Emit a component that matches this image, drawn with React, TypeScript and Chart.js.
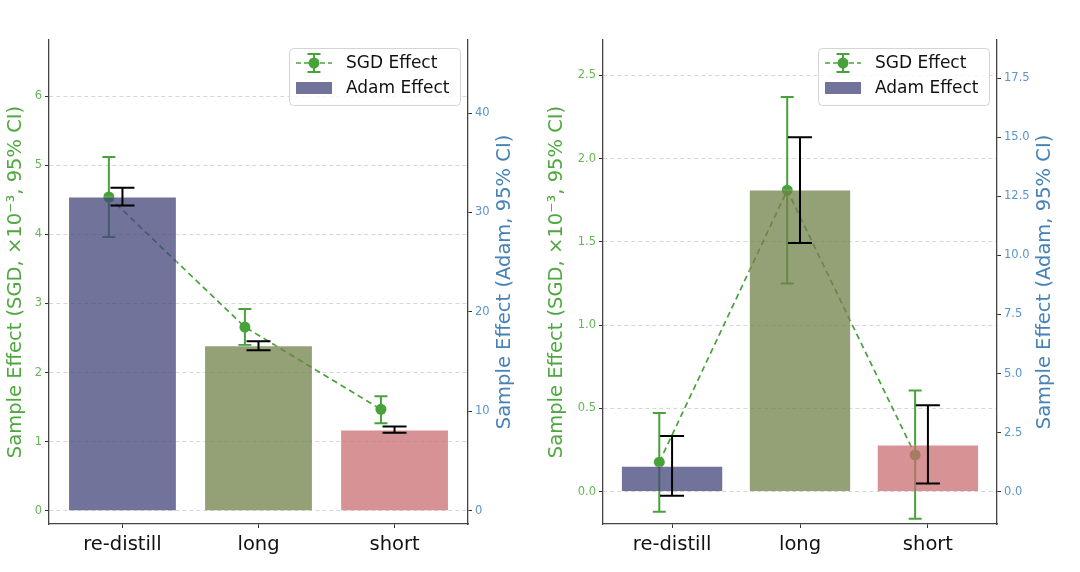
import React, { useEffect, useRef } from 'react';
import { Chart, registerables } from 'chart.js';

Chart.register(...registerables);

const FONT = '"DejaVu Sans", "Liberation Sans", sans-serif';

const categories = ['re-distill', 'long', 'short'];

// Left panel
const sgdMean1 = [4.54, 2.66, 1.47];
const sgdLo1 = [3.96, 2.4, 1.27];
const sgdHi1 = [5.12, 2.92, 1.66];
const adamMean1 = [31.6, 16.65, 8.2];
const adamLo1 = [30.7, 16.15, 7.85];
const adamHi1 = [32.5, 17.05, 8.5];
const leftTicks1 = [0, 1, 2, 3, 4, 5, 6];
const rightTicks1 = [0, 10, 20, 30, 40];

// Right panel
const sgdMean2 = [0.177, 1.81, 0.221];
const sgdLo2 = [-0.121, 1.25, -0.163];
const sgdHi2 = [0.473, 2.37, 0.608];
const adamMean2 = [1.1, 12.78, 2.0];
const adamLo2 = [-0.175, 10.52, 0.35];
const adamHi2 = [2.36, 15.0, 3.66];
const leftTicks2 = [0, 0.5, 1.0, 1.5, 2.0, 2.5];
const rightTicks2 = [0, 2.5, 5.0, 7.5, 10.0, 12.5, 15.0, 17.5];

const barColors = ['rgba(66,68,122,0.75)', 'rgba(112,128,72,0.75)', 'rgba(200,110,114,0.75)'];
const SGD_GREEN = '#48a23a';
const GREEN_TITLE = '#4fa83f';
const GREEN_TICK = '#66b656';
const BLUE_TITLE = '#4682b8';
const BLUE_TICK = '#5a94cc';
const SGD_OFFSET = 0.1;

const leftTitle = 'Sample Effect (SGD, ×10⁻³, 95% CI)';
const rightTitle = 'Sample Effect (Adam, 95% CI)';
const legendLabels = ['SGD Effect', 'Adam Effect'];

type Panel = {
  sgdMean: number[];
  sgdLo: number[];
  sgdHi: number[];
  adamMean: number[];
  adamLo: number[];
  adamHi: number[];
  leftTicks: number[];
  rightTicks: number[];
  leftMin: number;
  leftMax: number;
  rightMin: number;
  rightMax: number;
  decimals: number;
  leftW: number;
  rightW: number;
  leftTitleX: number;
  rightTitleX: number;
};

const panel1: Panel = {
  sgdMean: sgdMean1, sgdLo: sgdLo1, sgdHi: sgdHi1,
  adamMean: adamMean1, adamLo: adamLo1, adamHi: adamHi1,
  leftTicks: leftTicks1, rightTicks: rightTicks1,
  leftMin: -0.188, leftMax: 6.81, rightMin: -1.31, rightMax: 47.34,
  decimals: 0, leftW: 49, rightW: 72, leftTitleX: 16, rightTitleX: 505,
};

const panel2: Panel = {
  sgdMean: sgdMean2, sgdLo: sgdLo2, sgdHi: sgdHi2,
  adamMean: adamMean2, adamLo: adamLo2, adamHi: adamHi2,
  leftTicks: leftTicks2, rightTicks: rightTicks2,
  leftMin: -0.194, leftMax: 2.712, rightMin: -1.366, rightMax: 19.11,
  decimals: 1, leftW: 63, rightW: 83, leftTitleX: 17, rightTitleX: 505,
};

function makeChart(canvas: HTMLCanvasElement, p: Panel) {
  const plugin = {
    id: 'panelDeco',
    beforeDatasetsDraw(chart: any) {
      const ctx = chart.ctx;
      const xs = chart.scales.x;
      const ys = chart.scales.y;
      ctx.save();
      ctx.strokeStyle = SGD_GREEN;
      ctx.lineWidth = 2;
      for (let i = 0; i < categories.length; i++) {
        const px = xs.getPixelForValue(i - SGD_OFFSET);
        const t = ys.getPixelForValue(p.sgdHi[i]);
        const b = ys.getPixelForValue(p.sgdLo[i]);
        ctx.beginPath();
        ctx.moveTo(px, t); ctx.lineTo(px, b);
        ctx.moveTo(px - 6.5, t); ctx.lineTo(px + 6.5, t);
        ctx.moveTo(px - 6.5, b); ctx.lineTo(px + 6.5, b);
        ctx.stroke();
      }
      ctx.restore();
    },
    afterDatasetsDraw(chart: any) {
      const ctx = chart.ctx;
      const xs = chart.scales.x;
      const ys = chart.scales.y1;
      ctx.save();
      ctx.strokeStyle = '#000';
      ctx.lineWidth = 2;
      for (let i = 0; i < categories.length; i++) {
        const px = xs.getPixelForValue(i);
        const t = ys.getPixelForValue(p.adamHi[i]);
        const b = ys.getPixelForValue(p.adamLo[i]);
        ctx.beginPath();
        ctx.moveTo(px, t); ctx.lineTo(px, b);
        ctx.moveTo(px - 12, t); ctx.lineTo(px + 12, t);
        ctx.moveTo(px - 12, b); ctx.lineTo(px + 12, b);
        ctx.stroke();
      }
      ctx.restore();
    },
    afterDraw(chart: any) {
      const ctx = chart.ctx;
      const ca = chart.chartArea;
      const cy = (ca.top + ca.bottom) / 2;
      ctx.save();
      ctx.font = `19.5px ${FONT}`;
      ctx.textAlign = 'center';
      ctx.textBaseline = 'middle';
      ctx.fillStyle = GREEN_TITLE;
      ctx.translate(p.leftTitleX, cy);
      ctx.rotate(-Math.PI / 2);
      ctx.fillText(leftTitle, 0, 0);
      ctx.restore();
      ctx.save();
      ctx.font = `19.5px ${FONT}`;
      ctx.textAlign = 'center';
      ctx.textBaseline = 'middle';
      ctx.fillStyle = BLUE_TITLE;
      ctx.translate(p.rightTitleX, cy);
      ctx.rotate(-Math.PI / 2);
      ctx.fillText(rightTitle, 0, 0);
      ctx.restore();

      // legend
      const w = 171, h = 57;
      const lx = ca.right - 8 - w;
      const ly = ca.top + 8;
      ctx.save();
      ctx.beginPath();
      ctx.roundRect(lx + 0.5, ly + 0.5, w, h, 4);
      ctx.fillStyle = 'rgba(255,255,255,0.8)';
      ctx.fill();
      ctx.strokeStyle = '#d4d4d4';
      ctx.lineWidth = 1;
      ctx.stroke();
      const r1 = ly + 15;
      const r2 = ly + 40;
      const hx = lx + 25;
      ctx.strokeStyle = SGD_GREEN;
      ctx.lineWidth = 1.7;
      ctx.setLineDash([5, 3]);
      ctx.beginPath();
      ctx.moveTo(lx + 7, r1); ctx.lineTo(lx + 43, r1);
      ctx.stroke();
      ctx.setLineDash([]);
      ctx.lineWidth = 2;
      ctx.beginPath();
      ctx.moveTo(hx, r1 - 9); ctx.lineTo(hx, r1 + 9);
      ctx.moveTo(hx - 6.5, r1 - 9); ctx.lineTo(hx + 6.5, r1 - 9);
      ctx.moveTo(hx - 6.5, r1 + 9); ctx.lineTo(hx + 6.5, r1 + 9);
      ctx.stroke();
      ctx.fillStyle = SGD_GREEN;
      ctx.beginPath();
      ctx.arc(hx, r1, 5.5, 0, Math.PI * 2);
      ctx.fill();
      ctx.fillStyle = barColors[0];
      ctx.fillRect(lx + 7, r2 - 6, 36, 12);
      ctx.fillStyle = '#111';
      ctx.font = `17px ${FONT}`;
      ctx.textAlign = 'left';
      ctx.textBaseline = 'middle';
      ctx.fillText(legendLabels[0], lx + 57, r1 + 1);
      ctx.fillText(legendLabels[1], lx + 57, r2 + 1);
      ctx.restore();
    },
  };

  const fmt = (v: number) => v.toFixed(p.decimals);

  return new Chart(canvas, {
    data: {
      datasets: [
        {
          type: 'line',
          label: legendLabels[0],
          data: p.sgdMean.map((v, i) => ({ x: i - SGD_OFFSET, y: v })),
          yAxisID: 'y',
          xAxisID: 'x',
          borderColor: SGD_GREEN,
          backgroundColor: SGD_GREEN,
          borderWidth: 1.7,
          borderDash: [6, 4],
          pointRadius: 5.5,
          pointBorderWidth: 0,
          pointBackgroundColor: SGD_GREEN,
          tension: 0,
          order: 2,
        } as any,
        {
          type: 'bar',
          label: legendLabels[1],
          data: p.adamMean.map((v, i) => ({ x: i, y: v })),
          yAxisID: 'y1',
          xAxisID: 'x',
          backgroundColor: barColors,
          borderColor: 'rgba(255,255,255,0.35)',
          borderWidth: 1,
          barPercentage: 1,
          categoryPercentage: 0.8,
          order: 1,
        } as any,
      ],
    },
    options: {
      animation: false,
      responsive: false,
      maintainAspectRatio: false,
      layout: { padding: { top: 40, left: 0, right: 0, bottom: 0 } },
      plugins: { legend: { display: false }, tooltip: { enabled: false }, title: { display: false } },
      scales: {
        x: {
          type: 'linear',
          position: 'bottom',
          offset: false,
          min: -0.54,
          max: 2.54,
          afterBuildTicks: (s: any) => { s.ticks = categories.map((_, i) => ({ value: i })); },
          afterFit: (s: any) => { s.height = 48; },
          ticks: {
            callback: (v: any) => categories[Math.round(Number(v))] ?? '',
            font: { family: FONT, size: 19.5 },
            color: '#111',
            padding: 5,
            maxRotation: 0,
            autoSkip: false,
          },
          grid: { display: true, offset: false, drawOnChartArea: false, drawTicks: true, tickLength: 4, tickColor: '#333', tickWidth: 1 },
          border: { display: true, color: '#444', width: 1.3 },
        },
        y: {
          type: 'linear',
          position: 'left',
          min: p.leftMin,
          max: p.leftMax,
          afterBuildTicks: (s: any) => { s.ticks = p.leftTicks.map((v) => ({ value: v })); },
          afterFit: (s: any) => { s.width = p.leftW; },
          ticks: {
            callback: (v: any) => fmt(Number(v)),
            font: { family: FONT, size: 11.5 },
            color: GREEN_TICK,
            padding: 3,
            autoSkip: false,
          },
          grid: {
            display: true,
            drawOnChartArea: true,
            color: 'rgba(205,205,205,0.8)',
            lineWidth: 1,
            drawTicks: true,
            tickLength: 4,
            tickColor: '#333',
            tickWidth: 1,
            tickBorderDash: [],
          } as any,
          border: { display: true, color: '#444', width: 1.3, dash: [4, 3] },
        },
        y1: {
          type: 'linear',
          position: 'right',
          min: p.rightMin,
          max: p.rightMax,
          afterBuildTicks: (s: any) => { s.ticks = p.rightTicks.map((v) => ({ value: v })); },
          afterFit: (s: any) => { s.width = p.rightW; },
          ticks: {
            callback: (v: any) => fmt(Number(v)),
            font: { family: FONT, size: 11.5 },
            color: BLUE_TICK,
            padding: 3,
            autoSkip: false,
          },
          grid: { display: true, drawOnChartArea: false, drawTicks: true, tickLength: 4, tickColor: '#333', tickWidth: 1 },
          border: { display: true, color: '#444', width: 1.3 },
        },
      },
    } as any,
    plugins: [plugin],
  } as any);
}

export default function App() {
  const ref1 = useRef<HTMLCanvasElement>(null);
  const ref2 = useRef<HTMLCanvasElement>(null);

  useEffect(() => {
    const c1 = makeChart(ref1.current!, panel1);
    const c2 = makeChart(ref2.current!, panel2);
    return () => {
      c1.destroy();
      c2.destroy();
    };
  }, []);

  return (
    <div style={{ position: 'absolute', left: 0, top: 0, width: 1080, height: 572, display: 'flex', background: '#fff' }}>
      <div style={{ width: 540, height: 572 }}>
        <canvas ref={ref1} width={540} height={572} style={{ width: 540, height: 572, display: 'block' }} />
      </div>
      <div style={{ width: 540, height: 572 }}>
        <canvas ref={ref2} width={540} height={572} style={{ width: 540, height: 572, display: 'block' }} />
      </div>
    </div>
  );
}
